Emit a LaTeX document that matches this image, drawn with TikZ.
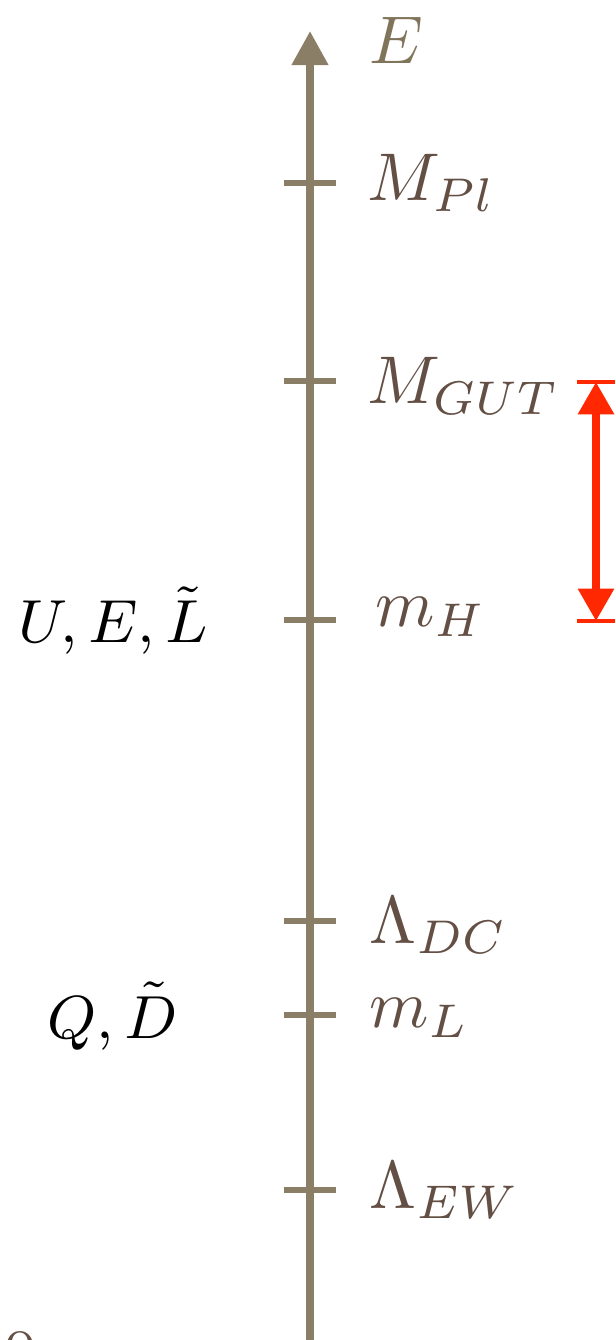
\documentclass[tikz,border=0pt]{standalone}
\usetikzlibrary{arrows.meta}
\definecolor{axiscol}{RGB}{138,127,102}
\definecolor{ecol}{RGB}{128,117,90}
\definecolor{labcol}{RGB}{100,79,68}
\definecolor{redcol}{RGB}{255,40,0}
\begin{document}
\begin{tikzpicture}[x=0.148pt,y=-0.148pt,
  axisline/.style={draw=axiscol,line width=1.19pt},
  tickline/.style={draw=axiscol,line width=0.76pt},
  lab/.style={anchor=base west,inner sep=0pt,text=labcol},
  leftlab/.style={anchor=base west,inner sep=0pt,text=black,font=\fontsize{9.35}{11}\selectfont},
  redline/.style={draw=redcol,line width=1.05pt},
  redbar/.style={draw=redcol,line width=0.67pt}]
\useasboundingbox (0,0) rectangle (616,1340);
% axis
\coordinate (bot) at (310,1350);
\coordinate (top) at (310,31);
\draw[axisline,-{Triangle[width=5.15pt,length=5.05pt]}] (bot) -- (top);
% ticks
\foreach \n/\y in {pl/183,gut/381,mh/620,dc/921,ml/1015,ew/1190}{
  \coordinate (t\n) at (310,\y);
  \draw[tickline] (t\n) ++(-26,0) -- ++(52,0);
}
% labels
\node[anchor=base west,inner sep=0pt,text=ecol] (lE) at (368,64) {$E$};
\node[lab] (lpl) at (366,201) {$M_{Pl}$};
\node[lab] (lgut) at (366,404) {$M_{GUT}$};
\node[lab] (lmh) at (374,626) {$m_H$};
\node[lab] (ldc) at (368,943) {$\Lambda_{DC}$};
\node[lab] (lml) at (368,1027) {$m_L$};
\node[lab] (lew) at (368,1208) {$\Lambda_{EW}$};
\node[leftlab] (lue) at (17,643) {$U, E, \tilde{L}$};
\node[leftlab] (lqd) at (46,1038) {$Q, \tilde{D}$};
\node[anchor=north,inner sep=0pt,text=labcol] (lzero) at (20,1332) {$0$};
% red interval arrow
\coordinate (ra) at (596,382);
\coordinate (rb) at (596,621);
\draw[redbar] (ra) ++(-19,0) -- ++(38,0);
\draw[redbar] (rb) ++(-19,0) -- ++(38,0);
\draw[redline,{Triangle[width=5.15pt,length=4.8pt]}-{Triangle[width=5.15pt,length=4.8pt]}] (ra) -- (rb);
\end{tikzpicture}
\end{document}
